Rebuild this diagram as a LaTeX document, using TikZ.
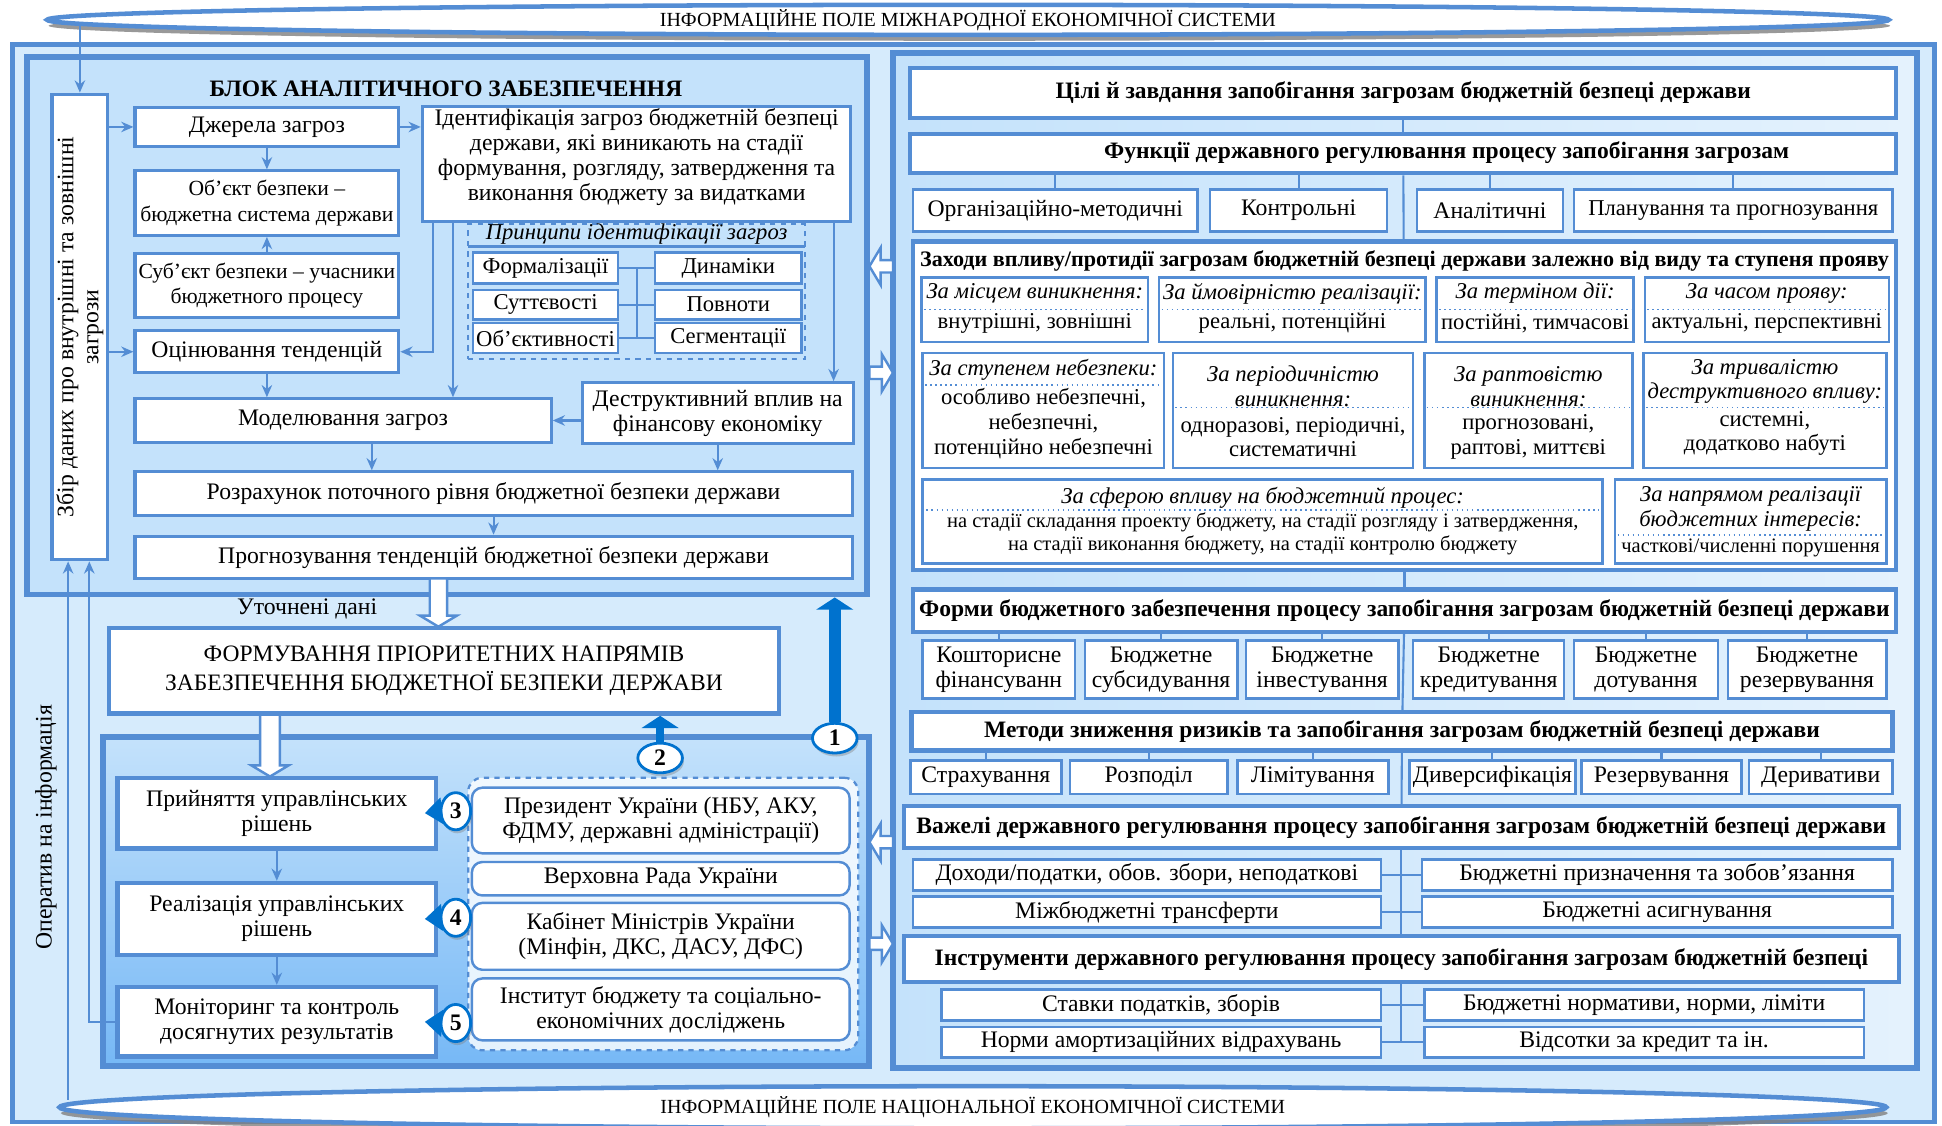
\documentclass[tikz,border=0pt]{standalone}
\usepackage{fontspec}
\setmainfont{Liberation Serif}
\usepackage{xcolor}
\usepackage{tikz}
\usetikzlibrary{arrows}
\usetikzlibrary{arrows.meta}
\usetikzlibrary{calc}
\usetikzlibrary{shapes}
\usetikzlibrary{shadows}

\definecolor{bord}{RGB}{84,141,212}
\definecolor{bgout}{RGB}{214,235,252}
\definecolor{bgpan}{RGB}{196,226,251}
\definecolor{lowbot}{RGB}{118,184,246}
\definecolor{bright}{RGB}{0,114,206}

\newcommand\ftext{\fontsize{13.6}{14.4}\selectfont}
\newcommand\fsub{\fontsize{13}{14.2}\selectfont}
\newcommand\fnarrow{\fontsize{12.4}{14.6}\selectfont}
\newcommand\fsmall{\fontsize{11.8}{12.8}\selectfont}
\newcommand\fhead{\fontsize{13.5}{14.4}\selectfont\bfseries}
\newcommand\ffield{\fontsize{11.5}{12}\selectfont}
\newcommand\fform{\fontsize{13.5}{17}\selectfont}

\tikzstyle{box} = [draw=bord, line width=1.8pt, fill=white, align=center, inner sep=1pt, font=\ftext]
\tikzstyle{sbox} = [draw=bord, line width=1.4pt, fill=white, align=center, inner sep=1pt, font=\fsub]
\tikzstyle{hbox} = [draw=bord, line width=2.4pt, fill=white, align=center, inner sep=1pt, font=\fhead]
\tikzstyle{rbox} = [sbox, rounded corners=6pt, font=\ftext]
\tikzstyle{panel} = [draw=bord, line width=3.4pt]
\tikzstyle{infofield} = [ellipse, draw=bord, line width=2.6pt, fill=white, inner sep=0pt, font=\ffield, drop shadow={shadow xshift=0.03cm, shadow yshift=-0.12cm, fill=gray, opacity=0.8}]
\tikzstyle{numc} = [ellipse, draw=bright, line width=1.6pt, fill=white, inner sep=0pt, font=\ftext\bfseries, drop shadow={shadow xshift=0.03cm, shadow yshift=-0.07cm, opacity=0.4}]
\tikzstyle{conn} = [draw=bord, line width=1.2pt]
\tikzstyle{arr} = [conn, -{Stealth[length=7pt, width=6pt]}]
\tikzstyle{bigarr} = [draw=bright, line width=7pt, -{Triangle[length=7pt, width=21pt]}]
\tikzstyle{tiparr} = [draw=bright, line width=4pt, -{Triangle[length=10pt, width=15pt]}]
\tikzstyle{dotsep} = [draw=bord, dotted, line width=0.9pt]
\tikzstyle{itl} = [font=\fsub\itshape, align=center, inner sep=0pt]
\tikzstyle{txt} = [font=\fsub, align=center, inner sep=0pt]

\tikzset{wh/.style 2 args={minimum width=#1*0.025cm, minimum height=#2*0.025cm},
  pics/blk/.style 2 args={code={\draw[draw=bord, line width=1.4pt, fill=white] (0,-#2) -- (#1-9,-#2) -- (#1-9,-15) -- (#1,0) -- (#1-9,15) -- (#1-9,#2) -- (0,#2) -- cycle;}}}

\begin{document}
\begin{tikzpicture}[x=0.025cm, y=-0.025cm]
	\useasboundingbox (0,0) rectangle (1568,909);
	
	% fields
	\node[draw=bord, line width=2.6pt, fill=bgout, wh={1552}{870}] (eco) at (786,471) {};
	\node[infofield, wh={1487}{24}] (intf) at (781.5,16) {ІНФОРМАЦІЙНЕ ПОЛЕ МІЖНАРОДНОЇ ЕКОНОМІЧНОЇ СИСТЕМИ};
	\node[infofield, wh={1475}{34}] (natf) at (785.5,894) {ІНФОРМАЦІЙНЕ ПОЛЕ НАЦІОНАЛЬНОЇ ЕКОНОМІЧНОЇ СИСТЕМИ};
	
	\node[panel, fill=bgpan, wh={678}{434}] (anl) at (361,263) {};
	\node[panel, left color=bgpan, right color=bgpan!45!white, wh={827}{819}] (reg) at (1134.5,452.5) {};
	\node[panel, top color=bgpan, bottom color=lowbot, wh={619}{266}] (upr) at (392.5,728) {};
	
	% analytic block
	\node[font=\fhead] (anlt) at (360,72) {БЛОК АНАЛІТИЧНОГО ЗАБЕЗПЕЧЕННЯ};
	\node[box, rotate=90, wh={376}{45}] (zbir) at (64.5,264) {Збір даних про внутрішні та зовнішні\\загрози};
	\node[box, wh={213}{31}] (dzh) at (215.5,102.5) {Джерела загроз};
	\node[box, font=\fnarrow, wh={213}{52}] (obj) at (215.5,164) {Об’єкт безпеки –\\бюджетна система держави};
	\node[box, font=\fnarrow, wh={213}{51}] (subj) at (215.5,230.5) {Суб’єкт безпеки – учасники\\бюджетного процесу};
	\node[box, wh={213}{34}] (otsin) at (215.5,284) {Оцінювання тенденцій};
	\node[box, wh={346}{93}] (ident) at (514,132.5) {};
	\node[font=\ftext, align=center] (identt) at (514,127) {Ідентифікація загроз бюджетній безпеці\\держави, які виникають на стадії\\формування, розгляду, затвердження та\\виконання бюджету за видатками};
	
	\node[draw=bord, dashed, line width=1pt, wh={272}{109}] (princ) at (514,235.5) {};
	\node[itl] (princt) at (514,189) {Принципи ідентифікації загроз};
	\draw[conn] (378,199) -- (650,199);
	\node[sbox, wh={117}{25}] (pf) at (440.5,216.5) {Формалізації};
	\node[sbox, wh={117}{24}] (ps) at (440.5,246) {Суттєвості};
	\node[sbox, wh={117}{24}] (po) at (440.5,273) {Об’єктивності};
	\node[sbox, wh={118}{25}] (pd) at (588,216.5) {Динаміки};
	\node[sbox, wh={118}{24}] (pp) at (588,246) {Повноти};
	\node[sbox, wh={118}{24}] (pg) at (588,273) {Сегментації};
	\draw[conn] (pf) -- (pd);
	\draw[conn] (ps) -- (pp);
	\draw[conn] (po) -- (pg);
	\draw[conn] ($(pf.east)!0.5!(pd.west)$) -- ($(po.east)!0.5!(pg.west)$);
	
	\node[box, wh={336}{35}] (model) at (277,339.5) {Моделювання загроз};
	\node[box, wh={219}{49}] (destr) at (579.5,333.5) {Деструктивний вплив на\\фінансову економіку};
	\node[box, wh={579}{35}] (rozr) at (398.5,398.5) {Розрахунок поточного рівня бюджетної безпеки держави};
	\node[box, wh={579}{34}] (progn) at (398.5,450) {Прогнозування тенденцій бюджетної безпеки держави};
	
	\coordinate (topin) at (64.5,21);
	\coordinate (natin) at (55,888);
	\coordinate (idm) at ([xshift=0.65cm]ident.south west);
	\coordinate (idd) at ([xshift=-0.38cm]ident.south east);
	\coordinate (mr) at ([xshift=0.58cm]model.south);
	
	\draw[arr] (topin) -- (zbir.east);
	\draw[arr] (zbir.south |- dzh.west) -- (dzh.west);
	\draw[arr] (zbir.south |- otsin.west) -- (otsin.west);
	\draw[arr] (dzh) -- (obj);
	\draw[arr] (subj) -- (obj);
	\draw[arr] (dzh.east) -- (dzh.east -| ident.west);
	\draw[arr] ([xshift=0.25cm]ident.south west) |- (otsin.east);
	\draw[arr] (idm) -- (idm |- model.north);
	\draw[arr] (idd) -- (idd |- destr.north);
	\draw[arr] (otsin) -- (otsin.south |- model.north);
	\draw[arr] (model.east -| destr.west) -- (model.east);
	\draw[arr] (mr) -- (mr |- rozr.north);
	\draw[arr] (destr.south) -- (destr.south |- rozr.north);
	\draw[arr] (rozr) -- (progn);
	
	% priorities
	\pic[rotate=-90] at (354,467) {blk={39}{7}};
	\node[font=\ftext] (utoch) at (248,492) {Уточнені дані};
	\node[box, line width=2.8pt, font=\fform, wh={541}{69}] (form) at (358.5,541.5) {ФОРМУВАННЯ ПРІОРИТЕТНИХ НАПРЯМІВ\\ЗАБЕЗПЕЧЕННЯ БЮДЖЕТНОЇ БЕЗПЕКИ ДЕРЖАВИ};
	\pic[rotate=-90] at (218,577) {blk={50}{8}};
	
	% management block
	\node[box, line width=2.6pt, wh={257}{57}] (prym) at (223.5,656.5) {Прийняття управлінських\\рішень};
	\node[box, line width=2.6pt, wh={257}{58}] (real) at (223.5,742) {Реалізація управлінських\\рішень};
	\node[box, line width=2.6pt, wh={257}{56}] (monit) at (223.5,825) {Моніторинг та контроль\\досягнутих результатів};
	\draw[arr] (prym) -- (real);
	\draw[arr] (real) -- (monit);
	
	\node[draw=bord, dashed, line width=1.3pt, rounded corners=8pt, top color=white!75!bgpan, bottom color=white!55!bgpan, wh={315}{220}] (org) at (535.5,738) {};
	\node[rbox, wh={305}{53}] (pres) at (533.5,662.5) {Президент України (НБУ, АКУ,\\ФДМУ, державні адміністрації)};
	\node[rbox, wh={305}{27}] (vr) at (533.5,709.5) {Верховна Рада України};
	\node[rbox, wh={305}{54}] (km) at (533.5,756) {Кабінет Міністрів України\\(Мінфін, ДКС, ДАСУ, ДФС)};
	\node[rbox, wh={305}{50}] (inst) at (533.5,815) {Інститут бюджету та соціально-\\економічних досліджень};
	
	\node[numc, wh={36}{24}] (n1) at (674,596) {1};
	\node[numc, wh={36}{24}] (n2) at (533,612) {2};
	\node[numc, wh={24}{30}] (n3) at (368,655) {3};
	\node[numc, wh={24}{30}] (n4) at (368,741) {4};
	\node[numc, wh={24}{30}] (n5) at (368,826) {5};
	\draw[bigarr] (n1.north) -- (n1.north |- anl.south);
	\draw[bigarr, line width=5pt] (n2.north) -- (n2.north |- form.south);
	\draw[tiparr] (n3.west) -- ([xshift=-0.27cm]prym.east);
	\draw[tiparr] (n4.west) -- ([xshift=-0.27cm]real.east);
	\draw[tiparr] (n5.west) -- ([xshift=-0.27cm]monit.east);
	
	\node[rotate=90, font=\ftext] (oper) at (37,668) {Оператив на інформація};
	\draw[arr] (natin) -- (natin |- zbir.west);
	\draw[arr] (monit.west) -| ([xshift=0.19cm]zbir.west);
	
	% between blocks
	\pic[rotate=180] at (721,215) {blk={19}{5}};
	\pic at (702,301) {blk={19}{5}};
	\pic[rotate=180] at (721,680) {blk={19}{5}};
	\pic at (702,762) {blk={19}{5}};
	
	% regulation block
	\node[hbox, wh={796}{40}] (goal) at (1133,75) {Цілі й завдання запобігання загрозам бюджетній безпеці держави};
	\node[hbox, wh={796}{32}] (func) at (1133,124) {};
	\node[font=\fhead] (funct) at (1168,123) {Функції державного регулювання процесу запобігання загрозам};
	\node[sbox, font=\ftext, wh={230}{34}] (f1) at (852,170) {Організаційно-методичні};
	\node[sbox, font=\ftext, wh={143}{34}] (f2) at (1048.5,170) {Контрольні};
	\node[sbox, font=\ftext, wh={118}{34}] (f3) at (1203,170) {Аналітичні};
	\node[sbox, font=\fsub, wh={257}{34}] (f4) at (1399.5,170) {Планування та прогнозування};
	
	\node[hbox, wh={794}{265}] (zakh) at (1134,327.5) {};
	\node[font=\fontsize{12.7}{14}\selectfont\bfseries] (zakht) at (1134,211) {Заходи впливу/протидії загрозам бюджетній безпеці держави залежно від виду та ступеня прояву};
	
	\foreach \zn/\zx/\zw/\zt/\zc in {za1/835.5/183/{За місцем виникнення:}/{внутрішні, зовнішні}, za2/1043.5/215/{За ймовірністю реалізації:}/{реальні, потенційні}, za3/1239.5/159/{За терміном дії:}/{постійні, тимчасові}, za4/1426.5/197/{За часом прояву:}/{актуальні, перспективні}}
	{
		\node[sbox, wh={\zw}{52}] (\zn) at (\zx,250) {};
		\node[itl] at (\zx,237) {\zt};
		\draw[dotsep] ($(\zn.west)+(3,0)$) -- ($(\zn.east)-(3,0)$);
		\node[txt] at (\zx,261) {\zc};
	}
	
	\node[sbox, wh={195}{93}] (zb1) at (842.5,331.5) {};
	\node[itl] at (842.5,299) {За ступенем небезпеки:};
	\draw[dotsep] (747,311) -- (938,311);
	\node[txt] at (842.5,342) {особливо небезпечні,\\небезпечні,\\потенційно небезпечні};
	
	\node[sbox, wh={194}{93}] (zb2) at (1044,331.5) {};
	\node[itl] at (1044,312) {За періодичністю\\виникнення:};
	\draw[dotsep] (949,329) -- (1139,329);
	\node[txt] at (1044,353) {одноразові, періодичні,\\систематичні};
	
	\node[sbox, wh={168}{93}] (zb3) at (1234,331.5) {};
	\node[itl] at (1234,312) {За раптовістю\\виникнення:};
	\draw[dotsep] (1152,329) -- (1316,329);
	\node[txt] at (1234,353) {прогнозовані,\\раптові, миттєві};
	
	\node[sbox, wh={196}{93}] (zb4) at (1425,331.5) {};
	\node[itl] at (1425,308) {За тривалістю\\деструктивного впливу:};
	\draw[dotsep] (1329,329) -- (1521,329);
	\node[txt] at (1425,350) {системні,\\додатково набуті};
	
	\node[sbox, wh={549}{68}] (zc1) at (1019.5,421) {};
	\node[itl] at (1019.5,402) {За сферою впливу на бюджетний процес:};
	\draw[dotsep] (748,412) -- (1291,412);
	\node[txt, font=\fsmall] at (1019.5,431) {на стадії складання проекту бюджету, на стадії розгляду і затвердження,\\на стадії виконання бюджету, на стадії контролю бюджету};
	
	\node[sbox, wh={219}{68}] (zc2) at (1413.5,421) {};
	\node[itl] at (1413.5,411) {За напрямом реалізації\\бюджетних інтересів:};
	\draw[dotsep] (1306,432) -- (1521,432);
	\node[txt, font=\fsmall] at (1413.5,442) {часткові/численні порушення};
	
	\node[hbox, wh={794}{34}] (forms) at (1134,493) {Форми бюджетного забезпечення процесу запобігання загрозам бюджетній безпеці держави};
	\node[sbox, font=\ftext, wh={123}{47}] (fm1) at (806.5,540.5) {Кошторисне\\фінансуванн};
	\node[sbox, font=\ftext, wh={123}{47}] (fm2) at (937.5,540.5) {Бюджетне\\субсидування};
	\node[sbox, font=\ftext, wh={123}{47}] (fm3) at (1067.5,540.5) {Бюджетне\\інвестування};
	\node[sbox, font=\ftext, wh={122}{47}] (fm4) at (1202,540.5) {Бюджетне\\кредитування};
	\node[sbox, font=\ftext, wh={116}{47}] (fm5) at (1329,540.5) {Бюджетне\\дотування};
	\node[sbox, font=\ftext, wh={128}{47}] (fm6) at (1459,540.5) {Бюджетне\\резервування};
	
	\node[hbox, wh={792}{31}] (metody) at (1132,590.5) {Методи зниження ризиків та запобігання загрозам бюджетній безпеці держави};
	\node[sbox, font=\ftext, wh={122}{27}] (mt1) at (796,627.5) {Страхування};
	\node[sbox, font=\ftext, wh={127}{27}] (mt2) at (927.5,627.5) {Розподіл};
	\node[sbox, font=\ftext, wh={122}{27}] (mt3) at (1060,627.5) {Лімітування};
	\node[sbox, font=\ftext, wh={134}{27}] (mt4) at (1205,627.5) {Диверсифікація};
	\node[sbox, font=\ftext, wh={129}{27}] (mt5) at (1341.5,627.5) {Резервування};
	\node[sbox, font=\ftext, wh={116}{27}] (mt6) at (1470,627.5) {Деривативи};
	
	\node[hbox, wh={803}{34}] (vazh) at (1131.5,668) {Важелі державного регулювання процесу запобігання загрозам бюджетній безпеці держави};
	\node[sbox, font=\ftext, wh={378}{25}] (vz1) at (926,706.5) {Доходи/податки, обов. збори, неподаткові};
	\node[sbox, font=\ftext, wh={380}{25}] (vz2) at (1338,706.5) {Бюджетні призначення та зобов’язання};
	\node[sbox, font=\ftext, wh={378}{25}] (vz3) at (926,736.5) {Міжбюджетні трансферти};
	\node[sbox, font=\ftext, wh={380}{25}] (vz4) at (1338,736.5) {Бюджетні асигнування};
	
	\node[hbox, wh={803}{37}] (instr) at (1131.5,774.5) {Інструменти державного регулювання процесу запобігання загрозам  бюджетній безпеці};
	\node[sbox, font=\ftext, wh={355}{25}] (in1) at (937.5,811.5) {Ставки податків, зборів};
	\node[sbox, font=\ftext, wh={355}{25}] (in2) at (1327.5,811.5) {Бюджетні нормативи, норми, ліміти};
	\node[sbox, font=\ftext, wh={355}{25}] (in3) at (937.5,841.5) {Норми амортизаційних відрахувань};
	\node[sbox, font=\ftext, wh={355}{25}] (in4) at (1327.5,841.5) {Відсотки за кредит та ін.};
	
	\draw[conn] (goal) -- (func);
	\draw[conn] (func) -- (zakh);
	\draw[conn] (zakh) -- (forms);
	\draw[conn] (forms) -- (metody);
	\draw[conn] (metody) -- (vazh);
	\draw[conn] (vazh) -- (instr);
	\draw[conn] (instr.south) -- (instr.south |- in3.east);
	\foreach \f in {f1, f2, f3, f4}
	{
		\draw[conn] (\f.north) -- (\f.north |- func.south);
	}
	\foreach \f in {fm1, fm2, fm3, fm4, fm5, fm6}
	{
		\draw[conn] (\f.north) -- (\f.north |- forms.south);
	}
	\foreach \f in {mt1, mt2, mt3, mt4, mt5, mt6}
	{
		\draw[conn] (\f.north) -- (\f.north |- metody.south);
	}
	\draw[conn] (vz1) -- (vz2);
	\draw[conn] (vz3) -- (vz4);
	\draw[conn] (in1) -- (in2);
	\draw[conn] (in3) -- (in4);
	
\end{tikzpicture}
\end{document}
